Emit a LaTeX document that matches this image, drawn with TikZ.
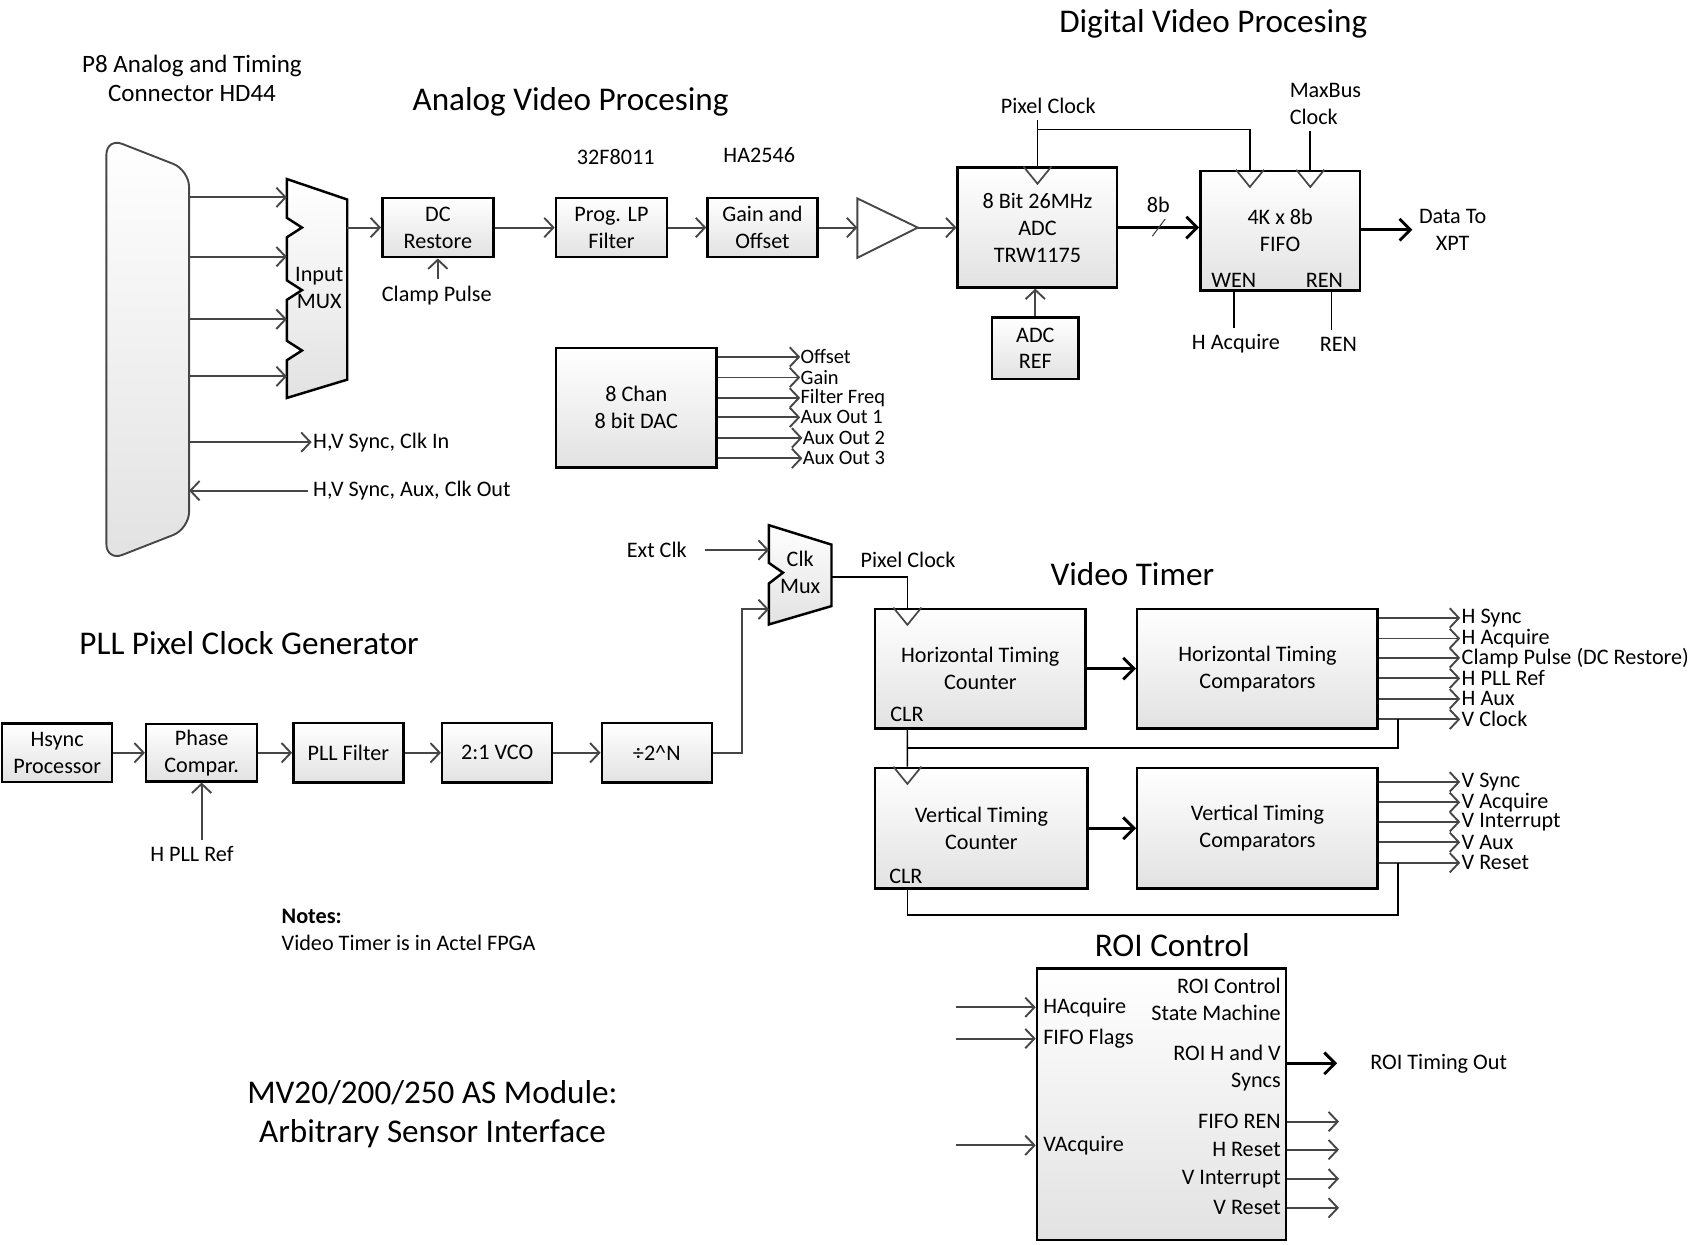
\documentclass[tikz,border=0pt]{standalone}
\usepackage{fontspec}
\setmainfont{Carlito}
\usetikzlibrary{arrows.meta,positioning,calc}
\definecolor{wiregray}{RGB}{70,70,70}
\definecolor{boxshade}{RGB}{226,226,226}

\begin{document}
\begin{tikzpicture}[x=0.02cm,y=-0.02cm,font=\fontsize{11.7}{14.2}\selectfont,
 box/.style={draw=black,line width=1.3pt,top color=white,bottom color=boxshade,align=center,inner sep=0pt},
 heading/.style={font=\fontsize{17.5}{21}\selectfont,align=center},
 lbl/.style={inner sep=0.6pt},
 daclbl/.style={inner sep=0pt,font=\fontsize{10.8}{12}\selectfont},
 wire/.style={draw=black,line width=0.9pt},
 clk/.style={draw=wiregray,line width=0.9pt},
 arr/.style={-{Straight Barb[length=1.7mm,width=3.6mm]},draw=wiregray,line width=1pt},
 bigarr/.style={-{Straight Barb[length=2mm,width=4mm]},draw=black,line width=1.5pt}]
\useasboundingbox (0,0) rectangle (1568,1154);
% headings
\node[font=\fontsize{13.2}{15.4}\selectfont,align=center] (p8title) at (178,73) {P8 Analog and Timing\\Connector HD44};
\node[heading] (avtitle) at (529,94) {Analog Video Procesing};
\node[heading] (dvtitle) at (1125,22) {Digital Video Procesing};
\node[heading] (vttitle) at (1050,532) {Video Timer};
\node[heading] (plltitle) at (231,596) {PLL Pixel Clock Generator};
\node[heading] (roititle) at (1087,876) {ROI Control};
\node[heading] (modtitle) at (401,1033) {MV20/200/250 AS Module:\\Arbitrary Sensor Interface};
\node[anchor=west,align=left] (notes) at (255,862) {\textbf{Notes:}\\Video Timer is in Actel FPGA};

% P8 connector and input mux
\node[minimum width=1.52cm,minimum height=7.84cm,inner sep=0pt] (p8) at (137,324) {};
\draw[draw=wiregray,line width=1pt,top color=white,bottom color=boxshade,rounded corners=9pt]
 (p8.west) -- (p8.north west) -- ($(p8.north east)+(0,30)$) -- ($(p8.south east)+(0,-30)$) -- (p8.south west) -- cycle;
\draw[line width=1.3pt,top color=white,bottom color=boxshade]
 (266,166) -- (322,185) -- (322,352) -- (266,369) -- (266,334) -- (280,325) -- (266,316)
 -- (266,278) -- (280,269) -- (266,260) -- (266,220) -- (280,211) -- (266,202) -- cycle;
\node[align=center] (imux) at (296,267) {Input\\MUX};
\coordinate (mi1) at (266,183);
\coordinate (mi2) at (266,238);
\coordinate (mi3) at (266,296);
\coordinate (mi4) at (266,349);
\coordinate (mout) at (322,211);
\draw[arr] (p8.east |- mi1) -- (mi1);
\draw[arr] (p8.east |- mi2) -- (mi2);
\draw[arr] (p8.east |- mi3) -- (mi3);
\draw[arr] (p8.east |- mi4) -- (mi4);
\node[lbl,anchor=west] (hvin) at (289,410) {H,V Sync, Clk In};
\node[lbl,anchor=west] (hvout) at (289,455) {H,V Sync, Aux, Clk Out};
\draw[arr] (p8.east |- hvin) -- (hvin.west);
\draw[arr] ([xshift=-2pt]hvout.west) -- (p8.east |- hvout);

% analog chain
\node[box,minimum width=2.06cm,minimum height=1.1cm] (dcr) at (406,211) {DC\\Restore};
\node[box,minimum width=2.06cm,minimum height=1.1cm] (lpf) at (567,211) {Prog. LP\\Filter};
\node[box,minimum width=2.04cm,minimum height=1.1cm] (gain) at (707,211) {Gain and\\Offset};
\node (lpfpart) at (571,146) {32F8011};
\node (gainpart) at (704,144) {HA2546};
\node (clamp) at (405,274) {Clamp Pulse};
\draw[fill=white,draw=wiregray,line width=1pt] (795,184) -- (851,211) -- (795,239) -- cycle;
\coordinate (ampin) at (795,211);
\coordinate (ampout) at (851,211);

% digital video
\node[box,minimum width=2.96cm,minimum height=2.22cm] (adc) at (962,211) {8 Bit 26MHz\\ADC\\TRW1175};
\node[box,minimum width=1.6cm,minimum height=1.14cm] (adcref) at (960,323) {ADC\\REF};
\node[box,minimum width=2.96cm,minimum height=2.22cm] (fifo) at (1187,214) {4K x 8b\\FIFO};
\coordinate (fwclk) at ($(fifo.north)+(-28,0)$);
\coordinate (frclk) at ($(fifo.north)+(28,0)$);
\coordinate (fifoin) at (fifo.west |- adc);
\coordinate (ptap) at (962,120);
\draw[clk] ($(adc.north)+(-13,0)$) -- ++(13,16) -- ++(13,-16);
\draw[clk] ($(fwclk)+(-13,0)$) -- ++(13,16) -- ++(13,-16);
\draw[clk] ($(frclk)+(-13,0)$) -- ++(13,16) -- ++(13,-16);
\node (pclk) at (972,98) {Pixel Clock};
\node[align=left] (mbclk) at (1229,96) {MaxBus\\Clock};
\node (busw) at (1074,190) {8b};
\node[lbl] (wen) at (1144,260) {WEN};
\node[lbl] (ren) at (1228,260) {REN};
\node (hacq) at (1146,319) {H Acquire};
\node (renin) at (1241,319) {REN};
\coordinate (renx) at ($(ren)!0.5!(renin)$);
\node[align=center] (xpt) at (1347,213) {Data To\\XPT};

\draw[arr] (mout) -- (dcr);
\draw[arr] (clamp.north -| dcr) -- (dcr.south);
\draw[arr] (dcr) -- (lpf);
\draw[arr] (lpf) -- (gain);
\draw[arr] (gain) -- (ampin);
\draw[arr] (ampout) -- (adc);
\draw[wire] (adc.north) -- (pclk.south -| adc.north);
\draw[wire] (ptap) -| (fwclk);
\draw[wire] (mbclk.south -| frclk) -- (frclk);
\draw[arr] (adcref) -- (adcref |- adc.south);
\draw[bigarr] (adc) -- (fifoin);
\draw[draw=wiregray,line width=0.6pt] ($(adc.east)!0.5!(fifoin)+(-6,8)$) -- ++(12,-16);
\draw[wire] (wen |- fifo.south) -- (wen |- hacq.north);
\draw[wire] (renx |- fifo.south) -- (renx |- renin.north);
\draw[bigarr] (fifo.east |- xpt) -- (xpt.west);

% dac
\node[box,minimum width=2.98cm,minimum height=2.22cm] (dac) at (590,378) {8 Chan\\8 bit DAC};
\node[daclbl,anchor=west] (doffset) at (742,331) {Offset};
\node[daclbl,anchor=west] (dgain) at (742,350) {Gain};
\node[daclbl,anchor=west] (dfilt) at (742,369) {Filter Freq};
\node[daclbl,anchor=west] (daux1) at (742,387) {Aux Out 1};
\node[daclbl,anchor=west] (daux2) at (744,406) {Aux Out 2};
\node[daclbl,anchor=west] (daux3) at (744,425) {Aux Out 3};
\draw[arr] (dac.east |- doffset) -- (doffset.west);
\draw[arr] (dac.east |- dgain) -- (dgain.west);
\draw[arr] (dac.east |- dfilt) -- (dfilt.west);
\draw[arr] (dac.east |- daux1) -- (daux1.west);
\draw[arr] (dac.east |- daux2) -- (daux2.west);
\draw[arr] (dac.east |- daux3) -- (daux3.west);

% clock mux
\draw[line width=1.3pt,top color=white,bottom color=boxshade]
 (713,487) -- (771,505) -- (771,562) -- (713,579) -- (713,541) -- (726,531) -- (713,522) -- cycle;
\node[align=center] (cmux) at (742,531) {Clk\\Mux};
\coordinate (cmin1) at (713,510);
\coordinate (cmin2) at (713,565);
\coordinate (cmout) at (771,535);
\node (extclk) at (609,510) {Ext Clk};
\node (pclk2) at (842,519) {Pixel Clock};
\draw[arr] ([xshift=6pt]extclk.east) -- (cmin1);

% video timer
\node[box,minimum width=3.9cm,minimum height=2.22cm] (htc) at (909,620) {Horizontal Timing\\Counter};
\node[box,minimum width=4.46cm,minimum height=2.22cm] (hcmp) at (1166,620) {Horizontal Timing\\Comparators};
\node[box,minimum width=3.94cm,minimum height=2.24cm] (vtc) at (910,768) {Vertical Timing\\Counter};
\node[box,minimum width=4.46cm,minimum height=2.24cm] (vcmp) at (1166,768) {Vertical Timing\\Comparators};
\node (hclr) at (841,662) {CLR};
\node (vclr) at (840,813) {CLR};
\coordinate (htcclk) at ($(htc.north west)+(31,0)$);
\coordinate (htcclr) at ($(htc.south west)+(31,0)$);
\coordinate (vtcclk) at ($(vtc.north west)+(31,0)$);
\coordinate (vtcclr) at ($(vtc.south west)+(31,0)$);
\coordinate (fbx) at (1296,0);
\draw[clk] ($(htcclk)+(-13,0)$) -- ++(13,16) -- ++(13,-16);
\draw[clk] ($(vtcclk)+(-13,0)$) -- ++(13,16) -- ++(13,-16);
\draw[wire] (cmout) -| (htcclk);
\draw[bigarr] (htc) -- (hcmp);
\draw[bigarr] (vtc) -- (vcmp);
\node[lbl,anchor=west] (ohsync) at (1354,573) {H Sync};
\node[lbl,anchor=west] (ohacq) at (1354,592) {H Acquire};
\node[lbl,anchor=west] (oclamp) at (1354,610) {Clamp Pulse (DC Restore)};
\node[lbl,anchor=west] (ohpll) at (1354,629) {H PLL Ref};
\node[lbl,anchor=west] (ohaux) at (1354,648) {H Aux};
\node[lbl,anchor=west] (ovclk) at (1354,667) {V Clock};
\node[lbl,anchor=west] (ovsync) at (1354,725) {V Sync};
\node[lbl,anchor=west] (ovacq) at (1354,744) {V Acquire};
\node[lbl,anchor=west] (ovint) at (1354,762) {V Interrupt};
\node[lbl,anchor=west] (ovaux) at (1354,781) {V Aux};
\node[lbl,anchor=west] (ovrst) at (1354,800) {V Reset};
\draw[arr] (hcmp.east |- ohsync) -- (ohsync.west);
\draw[arr] (hcmp.east |- ohacq) -- (ohacq.west);
\draw[arr] (hcmp.east |- oclamp) -- (oclamp.west);
\draw[arr] (hcmp.east |- ohpll) -- (ohpll.west);
\draw[arr] (hcmp.east |- ohaux) -- (ohaux.west);
\draw[arr] (hcmp.east |- ovclk) -- (ovclk.west);
\draw[arr] (vcmp.east |- ovsync) -- (ovsync.west);
\draw[arr] (vcmp.east |- ovacq) -- (ovacq.west);
\draw[arr] (vcmp.east |- ovint) -- (ovint.west);
\draw[arr] (vcmp.east |- ovaux) -- (ovaux.west);
\draw[arr] (vcmp.east |- ovrst) -- (ovrst.west);
\draw[wire] (fbx |- ovclk) |- ($(htcclr)!0.5!(vtcclk)$);
\draw[wire] (htcclr) -- (vtcclk);
\draw[wire] (fbx |- ovrst) |- ($(vtcclr)+(0,23)$) -- (vtcclr);

% pll chain
\node[box,minimum width=2.04cm,minimum height=1.08cm] (hsyncp) at (53,698) {Hsync\\Processor};
\node[box,minimum width=2.06cm,minimum height=1.06cm] (phase) at (187,698) {Phase\\Compar.};
\node[box,minimum width=2.04cm,minimum height=1.1cm] (pllf) at (323,698) {PLL Filter};
\node[box,minimum width=2.04cm,minimum height=1.1cm] (vco) at (461,698) {2:1 VCO};
\node[box,minimum width=2.04cm,minimum height=1.1cm] (div) at (609,698) {÷2\textasciicircum N};
\node (hpllref) at (178,792) {H PLL Ref};
\coordinate (divturn) at (688,565);
\draw[arr] (hsyncp) -- (phase);
\draw[arr] (phase) -- (pllf);
\draw[arr] (pllf) -- (vco);
\draw[arr] (vco) -- (div);
\draw[arr] (hpllref.north -| phase) -- (phase.south);
\draw[arr] (div.east) -| (divturn) -- (cmin2);

% roi control
\node[box,minimum width=4.62cm,minimum height=5.04cm] (roi) at (1077,1024) {};
\node[lbl,anchor=west] (rhacq) at (966,934) {HAcquire};
\node[lbl,anchor=west] (rflags) at (966,963) {FIFO Flags};
\node[lbl,anchor=west] (rvacq) at (966,1062) {VAcquire};
\node[lbl,anchor=east,align=right] (rstate) at (1189,927) {ROI Control\\State Machine};
\node[lbl,anchor=east,align=right] (rsyncs) at (1189,990) {ROI H and V\\Syncs};
\node[lbl,anchor=east] (rfren) at (1189,1040) {FIFO REN};
\node[lbl,anchor=east] (rhrst) at (1189,1066) {H Reset};
\node[lbl,anchor=east] (rvint) at (1189,1093) {V Interrupt};
\node[lbl,anchor=east] (rvrst) at (1189,1120) {V Reset};
\node (rtout) at (1334,986) {ROI Timing Out};
\draw[arr] ($(roi.west |- rhacq)+(-74,0)$) -- (roi.west |- rhacq);
\draw[arr] ($(roi.west |- rflags)+(-74,0)$) -- (roi.west |- rflags);
\draw[arr] ($(roi.west |- rvacq)+(-74,0)$) -- (roi.west |- rvacq);
\draw[bigarr] (roi.east |- rtout) -- ([xshift=-14pt]rtout.west);
\draw[arr] (roi.east |- rfren) -- ++(48,0);
\draw[arr] (roi.east |- rhrst) -- ++(48,0);
\draw[arr] (roi.east |- rvint) -- ++(48,0);
\draw[arr] (roi.east |- rvrst) -- ++(48,0);
\end{tikzpicture}
\end{document}
